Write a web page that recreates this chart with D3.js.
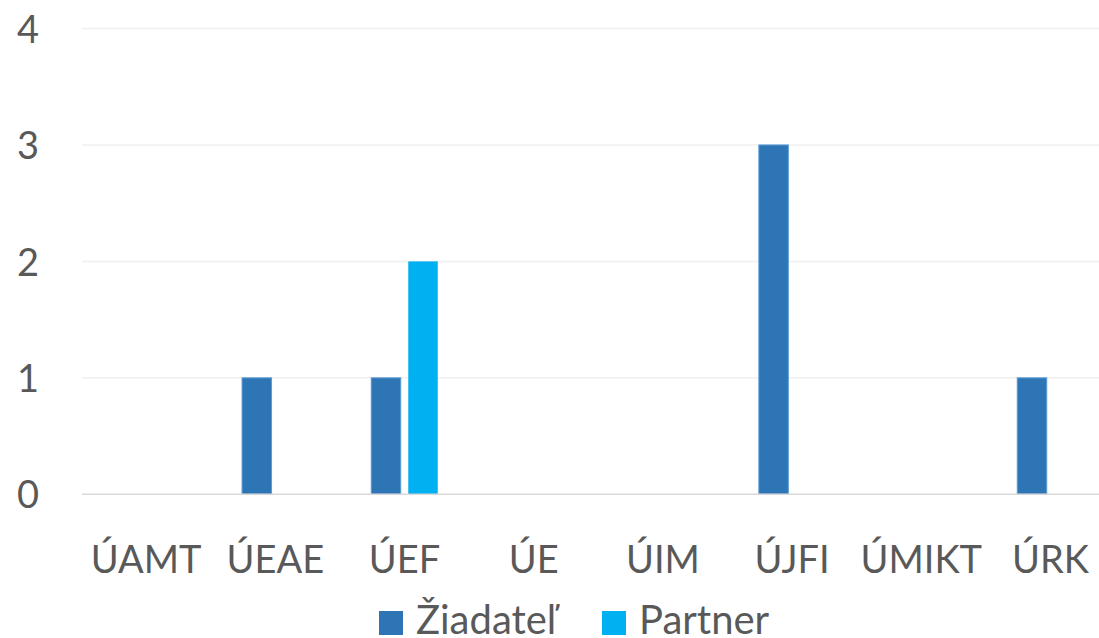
<!DOCTYPE html>
<html>
<head>
<meta charset="utf-8">
<script src="https://cdn.jsdelivr.net/npm/d3@7"></script>
<style>
  html, body { margin: 0; padding: 0; background: #fff; }
  svg { display: block; }
  text { font-family: Lato, "Open Sans", sans-serif; fill: #595959; }
</style>
</head>
<body>
<svg id="chart" width="1099" height="638"></svg>
<script>
const categories = ["ÚAMT", "ÚEAE", "ÚEF", "ÚE", "ÚIM", "ÚJFI", "ÚMIKT", "ÚRK"];
const seriesNames = ["Žiadateľ", "Partner"];
const ziadatelValues = [0, 1, 1, 0, 0, 3, 0, 1];
const partnerValues = [0, 0, 2, 0, 0, 0, 0, 0];
const yTicks = [0, 1, 2, 3, 4];
const colors = ["#2E75B6", "#00B0F0"];
const strokes = ["#5B9BD5", "none"];

const series = [ziadatelValues, partnerValues];
const svg = d3.select("#chart");
const W = 1099;

const x0 = d3.scaleBand().domain(categories).range([81.5, 81.5 + 8 * 129.2]).paddingInner(0).paddingOuter(0);
const x1 = d3.scaleBand().domain(seriesNames).range([0, 66.5]).paddingInner(0.203);
const y = d3.scaleLinear().domain([0, 4]).range([494.3, 28.5]);

// gridlines
svg.append("g").selectAll("line").data(yTicks.filter(d => d > 0)).join("line")
  .attr("x1", 82).attr("x2", W)
  .attr("y1", d => y(d)).attr("y2", d => y(d))
  .attr("stroke", "#F0F0F0").attr("stroke-width", 1.5);

// bars
const groups = svg.append("g").selectAll("g").data(categories).join("g")
  .attr("transform", c => `translate(${x0(c) + x0.bandwidth() / 2 - 33.25},0)`);
groups.selectAll("rect")
  .data((c, i) => seriesNames.map((s, k) => ({ s, k, v: series[k][i] })).filter(d => d.v > 0))
  .join("rect")
  .attr("x", d => x1(d.s))
  .attr("width", x1.bandwidth())
  .attr("y", d => y(d.v))
  .attr("height", d => y(0) - y(d.v))
  .attr("fill", d => colors[d.k])
  .attr("stroke", d => strokes[d.k])
  .attr("stroke-width", 1);

// zero axis line
svg.append("line").attr("x1", 82).attr("x2", W).attr("y1", y(0)).attr("y2", y(0))
  .attr("stroke", "#D9D9D9").attr("stroke-width", 1.5);

// y axis labels
const yAxis = d3.axisLeft(y).tickValues(yTicks).tickSize(0).tickPadding(0).tickFormat(d3.format("d"));
const yg = svg.append("g").attr("transform", "translate(39,0)").call(yAxis);
yg.select(".domain").remove();
yg.selectAll("text").style("font-size", "38px").attr("fill", "#595959").attr("dy", "0.36em").attr("font-family", null);

// x axis labels
const xAxis = d3.axisBottom(x0).tickSize(0).tickPadding(0);
const xg = svg.append("g").attr("transform", "translate(0,573)").call(xAxis);
xg.select(".domain").remove();
xg.selectAll("text").style("font-size", "38px").attr("fill", "#595959").attr("dy", "0").attr("y", 0).attr("font-family", null);

// legend
const legendItems = [
  { name: seriesNames[0], color: colors[0], sx: 379, tx: 416 },
  { name: seriesNames[1], color: colors[1], sx: 602, tx: 639 }
];
const lg = svg.append("g");
lg.selectAll("rect").data(legendItems).join("rect")
  .attr("x", d => d.sx).attr("y", 611).attr("width", 24).attr("height", 24)
  .attr("fill", d => d.color);
lg.selectAll("text").data(legendItems).join("text")
  .attr("x", d => d.tx).attr("y", 634)
  .style("font-size", "40px")
  .text(d => d.name);
</script>
</body>
</html>
